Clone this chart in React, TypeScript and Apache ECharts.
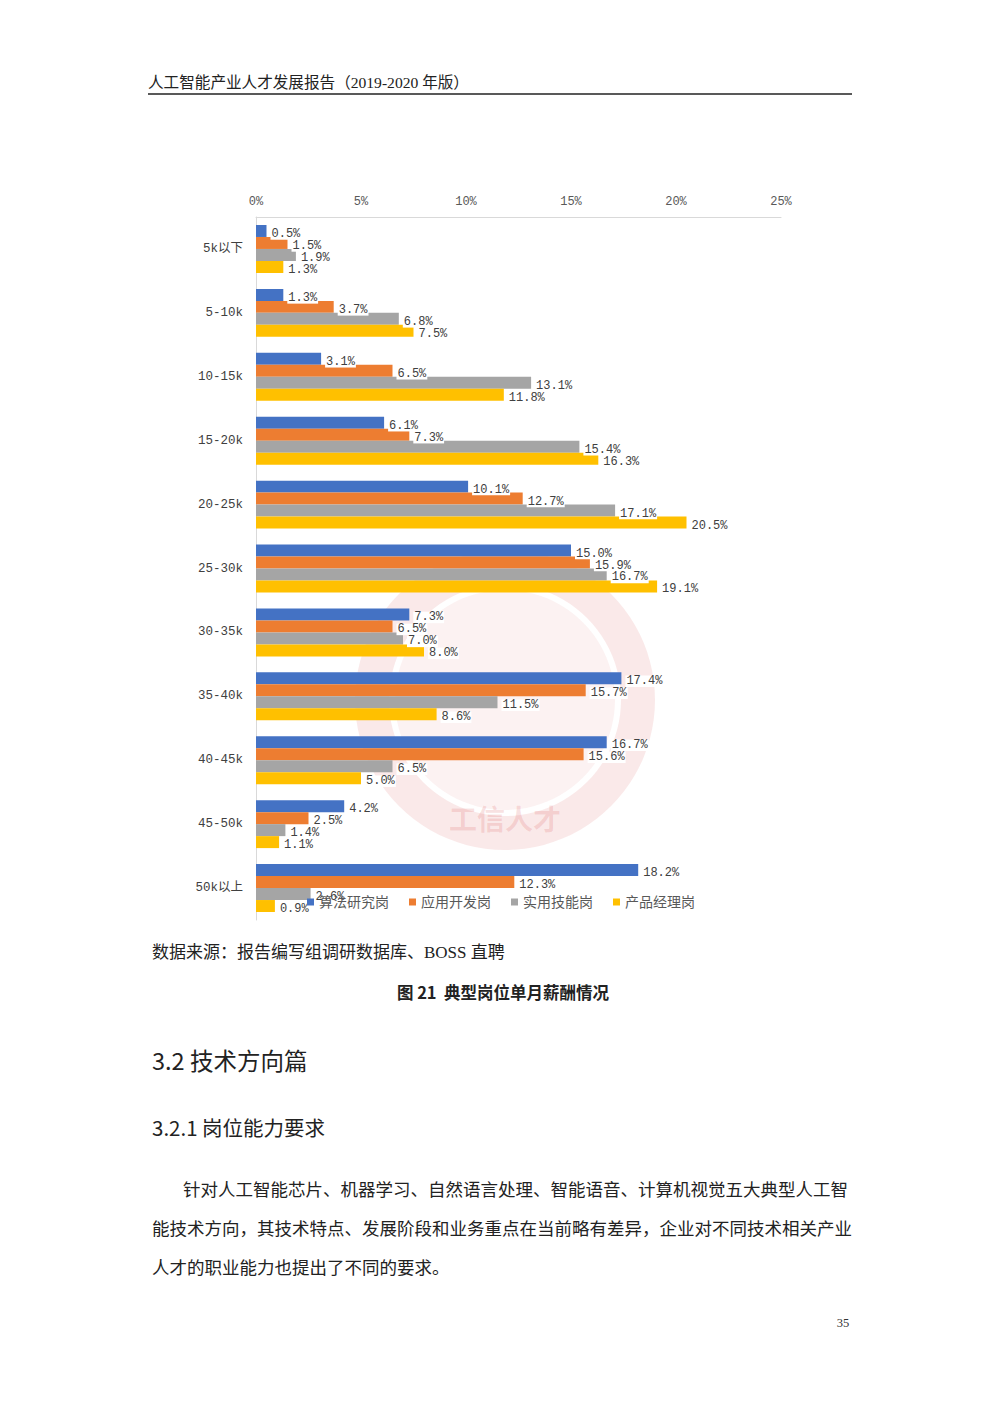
import React, { useEffect, useRef } from "react";
import * as echarts from "echarts";

const categories = ["5k以下", "5-10k", "10-15k", "15-20k", "20-25k", "25-30k", "30-35k", "35-40k", "40-45k", "45-50k", "50k以上"];
const seriesNames = ["算法研究岗", "应用开发岗", "实用技能岗", "产品经理岗"];
const algoValues = [0.5, 1.3, 3.1, 6.1, 10.1, 15.0, 7.3, 17.4, 16.7, 4.2, 18.2];
const devValues = [1.5, 3.7, 6.5, 7.3, 12.7, 15.9, 6.5, 15.7, 15.6, 2.5, 12.3];
const skillValues = [1.9, 6.8, 13.1, 15.4, 17.1, 16.7, 7.0, 11.5, 6.5, 1.4, 2.6];
const pmValues = [1.3, 7.5, 11.8, 16.3, 20.5, 19.1, 8.0, 8.6, 5.0, 1.1, 0.9];
const colors = ["#4472C4", "#ED7D31", "#A5A5A5", "#FFC000"];

const headerText = "人工智能产业人才发展报告（2019-2020 年版）";
const sourceText = "数据来源：报告编写组调研数据库、BOSS 直聘";
const captionText = "图 21  典型岗位单月薪酬情况";
const sectionText = "3.2 技术方向篇";
const subsectionText = "3.2.1 岗位能力要求";
const paragraphLines = [
  "针对人工智能芯片、机器学习、自然语言处理、智能语音、计算机视觉五大典型人工智",
  "能技术方向，其技术特点、发展阶段和业务重点在当前略有差异，企业对不同技术相关产业",
  "人才的职业能力也提出了不同的要求。",
];
const pageNumber = "35";

const SERIF = "'Liberation Serif', 'Noto Sans CJK SC', serif";
const MONO = "'Liberation Mono', 'Noto Sans CJK SC', monospace";
const SANS = "'Noto Sans CJK SC', 'Noto Sans', sans-serif";

export default function App() {
  const ref = useRef<HTMLDivElement>(null);

  useEffect(() => {
    if (!ref.current) return;
    const chart = echarts.init(ref.current, null, { renderer: "svg" });
    const allValues = [algoValues, devValues, skillValues, pmValues];

    const option: any = {
      animation: false,
      backgroundColor: "#ffffff",
      grid: { left: 256, right: 219, top: 217, bottom: 494, containLabel: false },
      legend: {
        data: seriesNames,
        left: 302,
        top: 890,
        icon: "rect",
        itemWidth: 7,
        itemHeight: 7,
        itemGap: 20,
        textStyle: { fontSize: 14, color: "#595959", fontFamily: SERIF },
      },
      xAxis: {
        type: "value",
        position: "top",
        min: 0,
        max: 25,
        interval: 5,
        axisLine: { show: true, lineStyle: { color: "#d9d9d9", width: 1 } },
        axisTick: { show: false },
        splitLine: { show: false },
        axisLabel: {
          formatter: "{value}%",
          color: "#595959",
          fontSize: 12,
          fontFamily: MONO,
          margin: 9,
        },
      },
      yAxis: {
        type: "category",
        data: categories,
        inverse: true,
        axisLine: { show: true, lineStyle: { color: "#d9d9d9", width: 1 } },
        axisTick: { show: false },
        axisLabel: { color: "#404040", fontSize: 12.5, fontFamily: MONO, margin: 13 },
      },
      series: seriesNames.map((name, i) => ({
        name,
        type: "bar",
        data: allValues[i],
        barGap: "0%",
        barCategoryGap: "25%",
        itemStyle: { color: colors[i] },
        label: {
          show: true,
          position: "right",
          distance: 4,
          offset: [0, 3],
          formatter: (p: any) => Number(p.value).toFixed(1) + "%",
          fontSize: 12,
          color: "#404040",
          fontFamily: MONO,
          backgroundColor: "#ffffff",
          padding: [0, 1, 0, 1],
          lineHeight: 11.5,
        },
      })),
      graphic: [
        // watermark
        {
          type: "ring",
          shape: { cx: 505, cy: 700, r: 150, r0: 116 },
          style: { fill: "rgba(214, 70, 70, 0.12)" },
          z: -10,
          silent: true,
        },
        {
          type: "circle",
          shape: { cx: 505, cy: 700, r: 110 },
          style: { fill: "rgba(214, 70, 70, 0.07)" },
          z: -10,
          silent: true,
        },
        {
          type: "text",
          x: 505,
          y: 818,
          style: {
            text: "工信人才",
            font: `bold 28px ${SANS}`,
            fill: "rgba(214, 70, 70, 0.16)",
            align: "center",
            verticalAlign: "middle",
          },
          z: -10,
          silent: true,
        },
        // header
        {
          type: "text",
          x: 148,
          y: 82,
          style: {
            text: headerText,
            font: `15.6px ${SERIF}`,
            fill: "#222222",
            verticalAlign: "middle",
          },
        },
        {
          type: "line",
          shape: { x1: 148, y1: 94, x2: 852, y2: 94 },
          style: { stroke: "#222222", lineWidth: 1.6 },
        },
        // source
        {
          type: "text",
          x: 152,
          y: 952,
          style: { text: sourceText, font: `17px ${SERIF}`, fill: "#222222", verticalAlign: "middle" },
        },
        // caption
        {
          type: "text",
          x: 503,
          y: 992,
          style: {
            text: captionText,
            font: `bold 16.5px ${SANS}`,
            fill: "#222222",
            align: "center",
            verticalAlign: "middle",
          },
        },
        // section heading
        {
          type: "text",
          x: 152,
          y: 1060,
          style: { text: sectionText, font: `23.5px ${SANS}`, fill: "#222222", verticalAlign: "middle" },
        },
        {
          type: "text",
          x: 152,
          y: 1127,
          style: { text: subsectionText, font: `20.5px ${SANS}`, fill: "#222222", verticalAlign: "middle" },
        },
        ...paragraphLines.map((line, i) => ({
          type: "text",
          x: i === 0 ? 183 : 152,
          y: 1190 + i * 39,
          style: { text: line, font: `17.5px ${SERIF}`, fill: "#222222", verticalAlign: "middle" },
        })),
        {
          type: "text",
          x: 843,
          y: 1323,
          style: { text: pageNumber, font: `12.5px ${SERIF}`, fill: "#333333", align: "center", verticalAlign: "middle" },
        },
      ],
    };

    chart.setOption(option);
    return () => chart.dispose();
  }, []);

  return (
    <div
      ref={ref}
      style={{ position: "absolute", left: 0, top: 0, width: 1000, height: 1414, background: "#ffffff" }}
    />
  );
}
